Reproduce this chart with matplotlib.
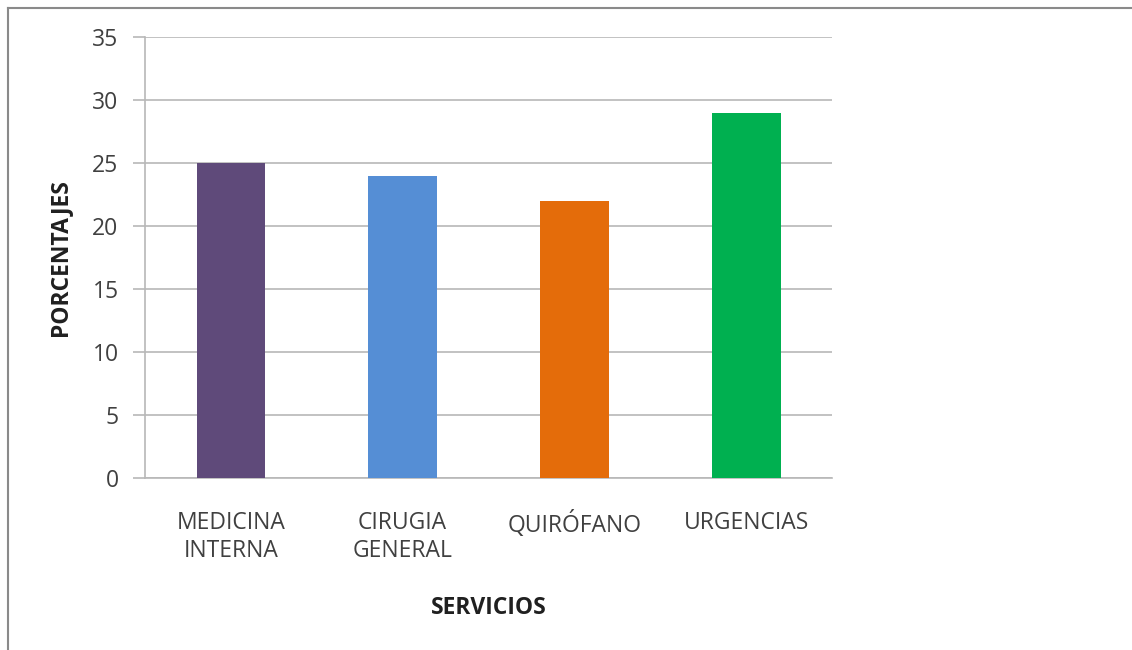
import matplotlib.pyplot as plt
from matplotlib.lines import Line2D

servicios = ["MEDICINA\nINTERNA", "CIRUGIA\nGENERAL", "QUIRÓFANO", "URGENCIAS"]
porcentajes = [25, 24, 22, 29]
colores = ["#5F4A7A", "#558ED5", "#E46C0A", "#00B050"]
y_ticks = [0, 5, 10, 15, 20, 25, 30, 35]

plt.rcParams["font.family"] = ["Open Sans", "DejaVu Sans"]

fig = plt.figure(figsize=(11.32, 6.5), dpi=100)
ax = fig.add_axes([0.1281, 0.2646, 0.607, 0.6785])

x = range(len(servicios))
ax.bar(x, porcentajes, width=0.4, color=colores, zorder=3)

ax.set_xlim(-0.5, len(servicios) - 0.5)
ax.set_ylim(0, 35)
ax.set_yticks(y_ticks)
ax.set_xticks(list(x))
ax.set_xticklabels(servicios, fontsize=16.5, color="#404040", linespacing=1.2)
ax.tick_params(axis="x", length=0, pad=24)
ax.tick_params(axis="y", length=9, width=1.2, color="#b8b8b8",
               labelsize=16.5, labelcolor="#404040", pad=10)

ax.grid(axis="y", color="#b8b8b8", linewidth=1.2, zorder=0)
for side in ["top", "right"]:
    ax.spines[side].set_visible(False)
ax.spines["left"].set_color("#b8b8b8")
ax.spines["left"].set_linewidth(1.2)
ax.spines["bottom"].set_color("#b8b8b8")
ax.spines["bottom"].set_linewidth(1.2)

ax.set_ylabel("PORCENTAJES", fontsize=16.5, fontweight="bold", color="#202020",
              labelpad=15)
ax.set_xlabel("SERVICIOS", fontsize=16.5, fontweight="bold", color="#202020",
              labelpad=24)

# outer frame of the chart area (left and top edges)
fig.add_artist(Line2D([7.5 / 1132, 7.5 / 1132], [0, 1 - 7.5 / 650],
                      transform=fig.transFigure, color="#8a8a8a", linewidth=1.5))
fig.add_artist(Line2D([7.5 / 1132, 1], [1 - 7.5 / 650, 1 - 7.5 / 650],
                      transform=fig.transFigure, color="#8a8a8a", linewidth=1.5))

fig.savefig("out.png", dpi=100)
